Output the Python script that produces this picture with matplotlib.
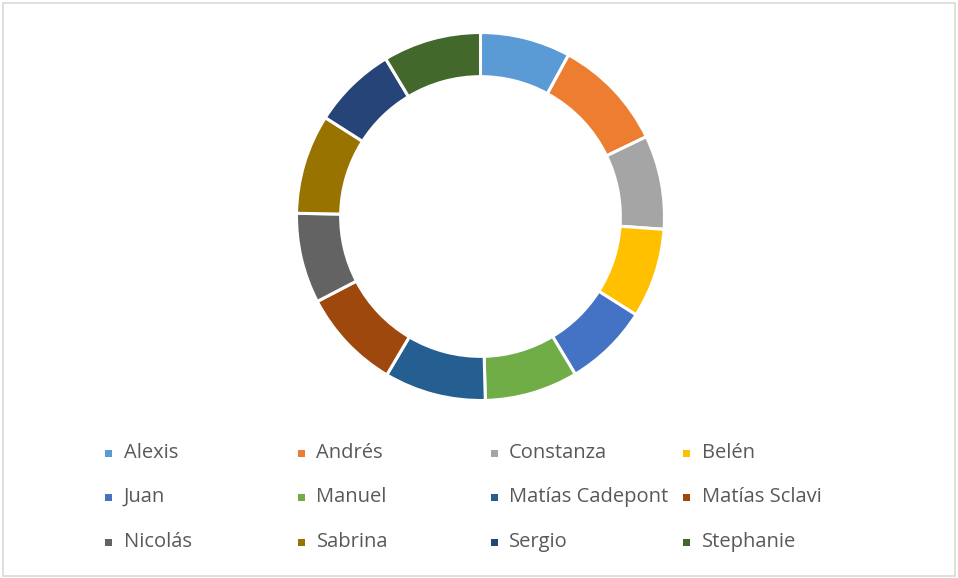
import numpy as np
import matplotlib as mpl
import matplotlib.pyplot as plt
from matplotlib.patches import Rectangle

mpl.rcParams['font.family'] = ['Open Sans', 'DejaVu Sans']

names = ['Alexis', 'Andrés', 'Constanza', 'Belén',
         'Juan', 'Manuel', 'Matías Cadepont', 'Matías Sclavi',
         'Nicolás', 'Sabrina', 'Sergio', 'Stephanie']
values = [28.6, 35.7, 29.7, 28.3, 26.7, 29.5, 32.1, 31.9, 28.5, 31.5, 26.5, 31.0]
colors = ['#5B9BD5', '#ED7D31', '#A5A5A5', '#FFC000', '#4472C4', '#70AD47',
          '#255E91', '#9E480E', '#636363', '#997300', '#264478', '#43682B']

W, H = 958, 578
fig = plt.figure(figsize=(W / 100, H / 100), dpi=100)

# chart border
fig.add_artist(Rectangle((3 / W, 2 / H), 952 / W, 573 / H, transform=fig.transFigure,
                         fill=False, edgecolor='#D9D9D9', linewidth=1.2))

# donut
cx, cy, r = 480.5, 216.5, 184
ax = fig.add_axes([(cx - r) / W, (H - cy - r) / H, 2 * r / W, 2 * r / H])
ax.pie(values, colors=colors, startangle=90, counterclock=False, radius=1,
       wedgeprops=dict(width=0.24, edgecolor='white', linewidth=2.2))
ax.set_xlim(-1, 1)
ax.set_ylim(-1, 1)
ax.set_aspect('equal')
ax.axis('off')

# legend: 4 columns, 3 rows
col_x = [108.5, 301.5, 494, 686.5]
row_y = [453, 497, 542]
sq = 7
for i, (name, c) in enumerate(zip(names, colors)):
    x = col_x[i % 4]
    y = row_y[i // 4]
    fig.add_artist(Rectangle(((x - sq / 2) / W, (H - y - sq / 2) / H), sq / W, sq / H,
                             transform=fig.transFigure, facecolor=c, edgecolor='none'))
    fig.text((x + 15) / W, (H - y) / H, name, fontsize=14.5, color='#595959',
             ha='left', va='center')

fig.savefig('out.png', dpi=100)
